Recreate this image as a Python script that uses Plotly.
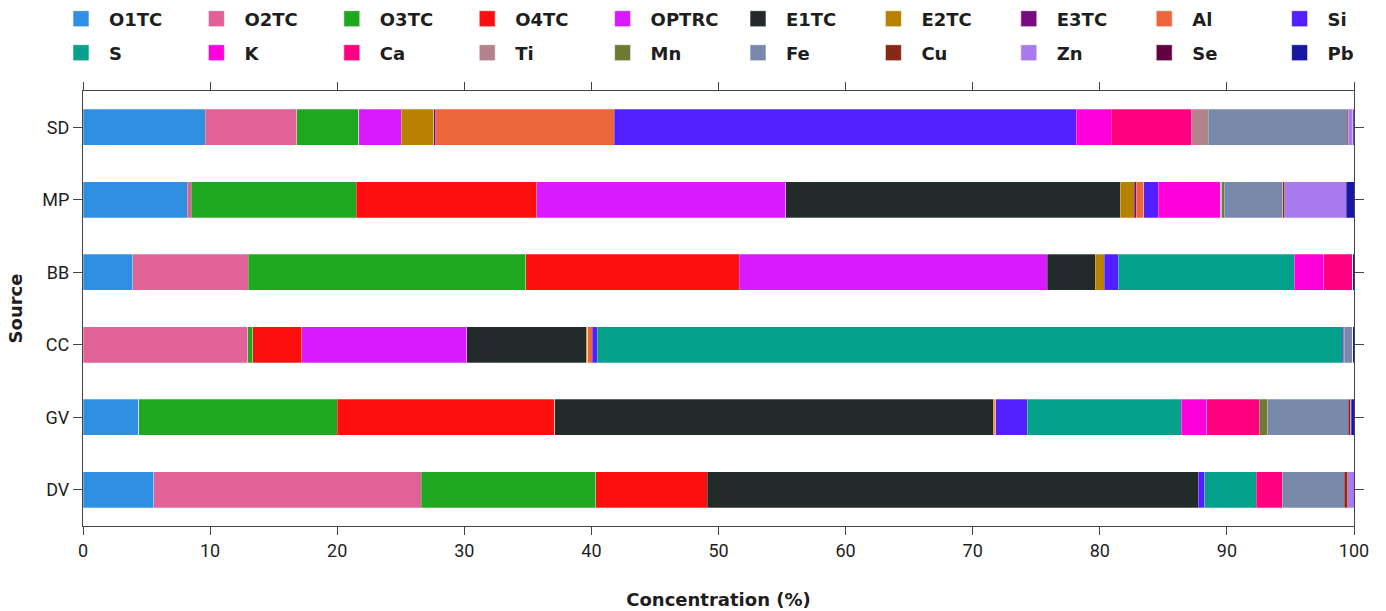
import plotly.graph_objects as go

# Source categories, bottom to top
sources = ["DV", "GV", "CC", "BB", "MP", "SD"]

# Component contributions (%) per source, same order as `sources`
O1TC = [5.55, 4.4, 0.0, 3.9, 8.2, 9.6]
O2TC = [21.05, 0.0, 12.95, 9.1, 0.3, 7.2]
O3TC = [13.75, 15.6, 0.4, 21.85, 13.0, 4.9]
O4TC = [8.75, 17.1, 3.85, 16.8, 14.2, 0.0]
OPTRC = [0.0, 0.0, 13.0, 24.2, 19.6, 3.35]
E1TC = [38.65, 34.5, 9.4, 3.8, 26.3, 0.0]
E2TC = [0.0, 0.1, 0.1, 0.7, 1.1, 2.55]
E3TC = [0.0, 0.0, 0.0, 0.0, 0.15, 0.15]
Al = [0.0, 0.1, 0.35, 0.0, 0.6, 14.05]
Si = [0.5, 2.5, 0.4, 1.1, 1.15, 36.35]
S = [4.05, 12.1, 58.7, 13.85, 0.0, 0.0]
K = [0.0, 2.0, 0.1, 2.3, 4.9, 2.75]
Ca = [2.05, 4.15, 0.0, 2.3, 0.0, 6.35]
Ti = [0.0, 0.0, 0.0, 0.0, 0.1, 1.2]
Mn = [0.0, 0.65, 0.0, 0.0, 0.2, 0.1]
Fe = [4.9, 6.35, 0.65, 0.0, 4.6, 10.9]
Cu = [0.25, 0.15, 0.0, 0.0, 0.15, 0.1]
Zn = [0.5, 0.1, 0.0, 0.0, 4.85, 0.35]
Se = [0.0, 0.0, 0.0, 0.0, 0.0, 0.05]
Pb = [0.0, 0.2, 0.1, 0.1, 0.6, 0.05]

components = [
    ("O1TC", O1TC, "#2F8FE3"),
    ("O2TC", O2TC, "#E06296"),
    ("O3TC", O3TC, "#1FA71F"),
    ("O4TC", O4TC, "#FE0F0F"),
    ("OPTRC", OPTRC, "#D91AFF"),
    ("E1TC", E1TC, "#232A2A"),
    ("E2TC", E2TC, "#B88200"),
    ("E3TC", E3TC, "#760B80"),
    ("Al", Al, "#EC663C"),
    ("Si", Si, "#5220FF"),
    ("S", S, "#03A08A"),
    ("K", K, "#FF00DD"),
    ("Ca", Ca, "#FF0080"),
    ("Ti", Ti, "#B3828B"),
    ("Mn", Mn, "#6D7A33"),
    ("Fe", Fe, "#7889AC"),
    ("Cu", Cu, "#8A2818"),
    ("Zn", Zn, "#A87AEE"),
    ("Se", Se, "#630040"),
    ("Pb", Pb, "#1817A3"),
]

TITLE_FONT = "DejaVu Sans"
TICK_FONT = "Roboto"
INK = "#1e1e1e"
AXIS_LINE = "#444444"

PLOT_TOP = 91
PLOT_H = 435

fig = go.Figure()

for name, vals, color in components:
    fig.add_trace(go.Bar(
        name=name,
        y=sources,
        x=vals,
        orientation="h",
        marker=dict(color=color, line=dict(color="rgba(255,255,255,0.55)", width=0.5)),
        showlegend=False,
    ))

# Legend entries (two rows of ten) with larger square swatches
for i, (name, vals, color) in enumerate(components):
    fig.add_trace(go.Scatter(
        name=name,
        x=[None],
        y=[None],
        mode="markers",
        marker=dict(symbol="square", size=16, color=color,
                    line=dict(color="rgba(255,255,255,0.6)", width=1)),
        legend="legend" if i < 10 else "legend2",
        showlegend=True,
        hoverinfo="skip",
    ))


def row_y(px):
    """Paper y-coordinate for a pixel row above the plot area."""
    return 1 + (PLOT_TOP - px) / PLOT_H


legend_common = dict(
    orientation="h",
    xref="paper",
    x=-0.0236,
    xanchor="left",
    yref="paper",
    yanchor="middle",
    itemwidth=46,
    itemsizing="trace",
    entrywidth=74.4,
    entrywidthmode="pixels",
    font=dict(family=TITLE_FONT, size=18, color=INK, weight="bold"),
    bgcolor="rgba(0,0,0,0)",
    traceorder="normal",
)

fig.update_layout(
    width=1386,
    height=611,
    margin=dict(l=83, r=32, t=PLOT_TOP, b=611 - PLOT_TOP - PLOT_H, autoexpand=False),
    paper_bgcolor="white",
    plot_bgcolor="white",
    barmode="stack",
    bargap=0.5,
    legend=dict(legend_common, y=row_y(19)),
    legend2=dict(legend_common, y=row_y(53)),
    xaxis=dict(
        range=[0, 100],
        tickvals=list(range(0, 101, 10)),
        ticks="outside",
        ticklen=8,
        tickwidth=1.2,
        tickcolor=AXIS_LINE,
        showline=True,
        linecolor=AXIS_LINE,
        linewidth=1.2,
        mirror="ticks",
        showgrid=False,
        zeroline=False,
        tickfont=dict(family=TICK_FONT, size=18, color=INK),
        title=dict(text="Concentration (%)", standoff=33,
                   font=dict(family=TITLE_FONT, size=18, color=INK, weight="bold")),
    ),
    yaxis=dict(
        categoryorder="array",
        categoryarray=sources,
        ticks="outside",
        ticklen=9,
        tickwidth=1.2,
        tickcolor=AXIS_LINE,
        showline=True,
        linecolor=AXIS_LINE,
        linewidth=1.2,
        mirror="ticks",
        showgrid=False,
        zeroline=False,
        tickfont=dict(family=TICK_FONT, size=18, color=INK),
        title=dict(text="Source", standoff=14,
                   font=dict(family=TITLE_FONT, size=18, color=INK, weight="bold")),
    ),
)

fig.write_html("out.html")
